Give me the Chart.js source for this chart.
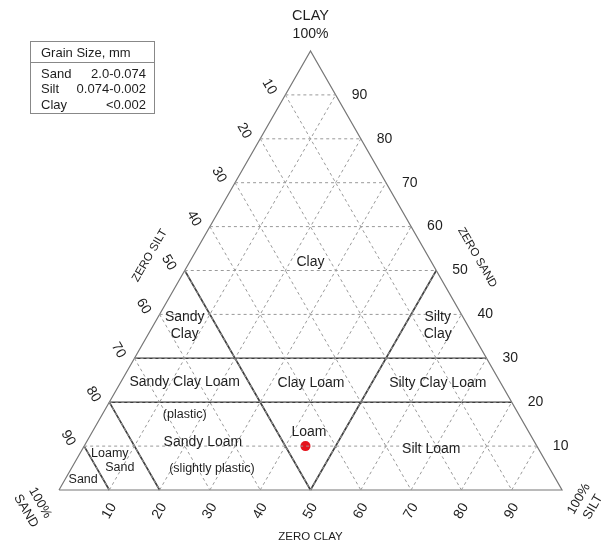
<!DOCTYPE html>
<html>
<head>
<meta charset="utf-8">
<title>Soil classification triangle</title>
<script src="https://cdn.jsdelivr.net/npm/chart.js@4.4.1/dist/chart.umd.min.js"></script>
<style>
  html, body { margin:0; padding:0; background:#fff; }
  canvas { display:block; }
</style>
</head>
<body>
<canvas id="tri" width="603" height="548"></canvas>
<script>
// percent steps for the dashed grid and the numbers along each side
const gridSteps = [10,20,30,40,50,60,70,80,90]
const tickLabels = ['10','20','30','40','50','60','70','80','90']

// class boundaries, end points as [sand, silt, clay]
const boundaryFrom = [[70,0,30],[80,0,20],[50,0,50],[50,50,0],[80,0,20],[90,0,10]]
const boundaryTo   = [[0,70,30],[0,80,20],[50,50,0],[0,50,50],[80,20,0],[90,10,0]]

// tested soil [sand, silt, clay]
const sample = [46,44,10]

const regionNames = ['Clay','Sandy\nClay','Silty\nClay','Sandy Clay Loam','Clay Loam','Silty Clay Loam',
  '(plastic)','Sandy Loam','(slightly plastic)','Loam','Silt Loam','Loamy','Sand','Sand']

const grainRows = ['Sand','Silt','Clay']
const grainSizes = ['2.0-0.074','0.074-0.002','<0.002']

// ternary -> plane: x runs along the base, y is clay
function toXY(p){ return {x: p[1] + p[2]/2, y: p[2]} }
function seg(a, b){ return [toXY(a), toXY(b)] }

// dashed grid, three directions
let datasets = []
gridSteps.forEach(v=>{
  const lines = [
    seg([100-v,0,v],[0,100-v,v]),   // clay
    seg([v,0,100-v],[v,100-v,0]),   // sand
    seg([100-v,v,0],[0,v,100-v])    // silt
  ]
  lines.forEach(d=>datasets.push({data:d, showLine:true, borderColor:'#9a9a9a', borderWidth:1,
    borderDash:[3,3], pointRadius:0}))
})

// outline
datasets.push({data:[toXY([100,0,0]),toXY([0,100,0]),toXY([0,0,100]),toXY([100,0,0])],
  showLine:true, borderColor:'#777', borderWidth:1.2, pointRadius:0})

boundaryFrom.forEach((a,i)=>{
  datasets.push({data:seg(a, boundaryTo[i]), showLine:true, borderColor:'#3c3c3c', borderWidth:1.6, pointRadius:0})
})

datasets.push({data:[toXY(sample)], pointRadius:5, backgroundColor:'#e5121b', borderWidth:0})

// label anchors in plane units [x, y, font px]
const regionSpots = [[50,52,14],[25,37.4,14],[75.3,37.4,14],[25,24.6,14],[50.1,24.4,14],[75.3,24.4,14],
  [25,17.1,12.5],[28.6,10.9,14],[30.4,5,12.5],[49.7,13.2,14],[74,9.3,14],[10.1,8.4,12.5],[12.1,5.2,12.5],[4.8,2.3,12.5]]

const FONT = 'Arial, "Liberation Sans", Helvetica, sans-serif'

function put(ctx, text, px, py, size, rot, align){
  ctx.save()
  ctx.translate(px, py)
  if(rot) ctx.rotate(rot*Math.PI/180)
  ctx.font = size + 'px ' + FONT
  ctx.textAlign = align || 'center'
  ctx.textBaseline = 'middle'
  const rows = text.split('\n')
  const lh = size*1.25
  rows.forEach((r,i)=> ctx.fillText(r, 0, (i - (rows.length-1)/2)*lh))
  ctx.restore()
}

const textPlugin = {
  id: 'triText',
  afterDatasetsDraw(chart){
    const {ctx, scales:{x, y}} = chart
    const X = v => x.getPixelForValue(v), Y = v => y.getPixelForValue(v)
    ctx.save()
    ctx.fillStyle = '#1e1e1e'

    // corner captions
    put(ctx, 'CLAY', X(50), 16, 14.5)
    put(ctx, '100%', X(50), 34, 14)
    put(ctx, '100%\nSAND', X(0)-26, Y(0)+17, 13, 60)
    put(ctx, '100%\nSILT', X(100)+24, Y(0)+13, 13, -60)
    put(ctx, 'ZERO CLAY', X(50), Y(0)+47, 11.5)
    put(ctx, 'ZERO SILT', X(25)-35, Y(50)-15, 11.5, -60)
    put(ctx, 'ZERO SAND', X(75)+41, Y(50)-13, 11.5, 60)

    // side numbers
    gridSteps.forEach((v,i)=>{
      const t = tickLabels[i]
      // clay, right side
      put(ctx, t, X(100 - v/2)+16, Y(v), 14, 0, 'left')
      // sand, left side
      put(ctx, t, X((100-v)/2)-16, Y(100-v)-8, 14, 60)
      // silt, base
      put(ctx, t, X(v), Y(0)+21, 14, -60)
    })

    // class names
    regionNames.forEach((n,i)=>{
      const s = regionSpots[i]
      put(ctx, n, X(s[0]), Y(s[1]), s[2])
    })

    // grain size key
    ctx.strokeStyle = '#888'
    ctx.lineWidth = 1
    ctx.strokeRect(30.5, 41.5, 124, 72)
    ctx.beginPath(); ctx.moveTo(30.5, 62.5); ctx.lineTo(154.5, 62.5); ctx.stroke()
    put(ctx, 'Grain Size, mm', 41, 53, 13, 0, 'left')
    grainRows.forEach((r,i)=>{
      put(ctx, r, 41, 74 + i*15.5, 13, 0, 'left')
      put(ctx, grainSizes[i], 146, 74 + i*15.5, 13, 0, 'right')
    })
    ctx.restore()
  }
}

new Chart(document.getElementById('tri'), {
  type: 'scatter',
  data: { datasets },
  options: {
    responsive: false,
    animation: false,
    devicePixelRatio: 1,
    clip: false,
    layout: { padding: {left:59, right:41, top:51, bottom:58} },
    scales: {
      x: { type:'linear', min:0, max:100, display:false },
      y: { type:'linear', min:0, max:100, display:false }
    },
    plugins: { legend:{display:false}, tooltip:{enabled:false} }
  },
  plugins: [textPlugin]
})
</script>
</body>
</html>
